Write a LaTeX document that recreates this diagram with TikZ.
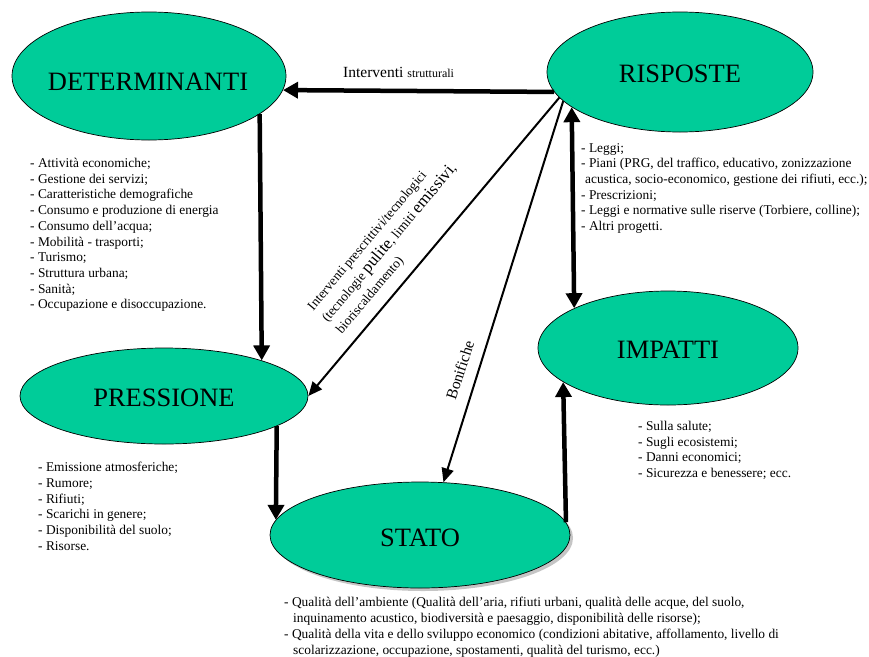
\documentclass[tikz,border=0pt]{standalone}
\usepackage{fontspec}
\setmainfont{Liberation Serif}
\usetikzlibrary{shapes.geometric,arrows.meta,shadows}
\definecolor{ellfill}{RGB}{0,204,153}
\begin{document}
\begin{tikzpicture}[x=1pt,y=-1pt,
  ell/.style={ellipse, draw=black, line width=0.7pt, fill=ellfill, inner sep=0pt},
  biglbl/.style={anchor=base, inner sep=0pt, font=\fontsize{26.5}{30}\selectfont},
  lst/.style={anchor=north west, inner sep=0pt, align=left, font=\fontsize{13.4}{15.7}\selectfont},
  bigarrow/.style={line width=4.5pt, -{Triangle[length=15pt,width=16pt]}},
  thinarrow/.style={line width=2pt, -{Triangle[length=14pt,width=12pt]}}
]
\useasboundingbox (0,0) rectangle (869,656);

% ellipses
\node[ell, minimum width=274pt, minimum height=128pt] (det) at (149,76) {};
\node[ell, minimum width=266pt, minimum height=120pt] (ris) at (680,72) {};
\node[ell, minimum width=288pt, minimum height=96pt] (pre) at (164,396) {};
\node[ell, minimum width=260pt, minimum height=114pt] (imp) at (668,348) {};
\node[ell, minimum width=300pt, minimum height=106pt,
      drop shadow={shadow xshift=3pt, shadow yshift=-3pt, fill=black!45}] (sta) at (420,535) {};

% ellipse labels
\node[biglbl] (detlbl) at (148,90) {DETERMINANTI};
\node[biglbl] (rislbl) at (680,82) {RISPOSTE};
\node[biglbl] (prelbl) at (164,406) {PRESSIONE};
\node[biglbl] (implbl) at (668,358) {IMPATTI};
\node[biglbl] (stalbl) at (420,546) {STATO};

% connectors
\draw[bigarrow] (ris.189.06) -- (det.-6.9);
\draw[bigarrow] (det.-19.06) -- (pre.20.75);
\draw[bigarrow] (pre.-15.4) -- (sta.174.64);
\draw[bigarrow] (sta.5.36) -- (imp.198.7);
\draw[line width=4.5pt, {Triangle[length=15pt,width=16pt]}-{Triangle[length=15pt,width=16pt]}] (ris.198.4) -- (imp.157.7);
\draw[thinarrow] (ris.192) -- (pre.east);
\draw[thinarrow] (ris.194.6) -- (sta.66.3);

% connector labels
\node[anchor=base west, inner sep=0pt, font=\fontsize{15.5}{18}\selectfont] (intlbl) at (343,77)
  {Interventi {\fontsize{12}{14}\selectfont strutturali}};
\node[rotate=50, anchor=west, inner sep=0pt, align=left, font=\fontsize{13.4}{18.5}\selectfont] (rotlbl) at (325,321)
  {Interventi prescrittivi/tecnologici\\(tecnologie {\fontsize{17}{18.5}\selectfont pulite}, limiti {\fontsize{17}{18.5}\selectfont emissivi},\\bioriscaldamento)};
\node[rotate=72, inner sep=0pt, font=\fontsize{15.5}{18}\selectfont] (bonlbl) at (460,370) {Bonifiche};

% lists
\node[lst] (detlist) at (30,158) {- Attività economiche;\\- Gestione dei servizi;\\- Caratteristiche demografiche\\- Consumo e produzione di energia\\- Consumo dell’acqua;\\- Mobilità - trasporti;\\- Turismo;\\- Struttura urbana;\\- Sanità;\\- Occupazione e disoccupazione.};
\node[lst] (rislist) at (581,143) {- Leggi;\\- Piani (PRG, del traffico, educativo, zonizzazione\\\hspace*{4pt}acustica, socio-economico, gestione dei rifiuti, ecc.);\\- Prescrizioni;\\- Leggi e normative sulle riserve (Torbiere, colline);\\- Altri progetti.};
\node[lst] (prelist) at (38,462) {- Emissione atmosferiche;\\- Rumore;\\- Rifiuti;\\- Scarichi in genere;\\- Disponibilità del suolo;\\- Risorse.};
\node[lst] (implist) at (638,421) {- Sulla salute;\\- Sugli ecosistemi;\\- Danni economici;\\- Sicurezza e benessere; ecc.};
\node[lst, font=\fontsize{13.4}{16}\selectfont] (stalist) at (284,597) {- Qualità dell’ambiente (Qualità dell’aria, rifiuti urbani, qualità delle acque, del suolo,\\\hspace*{9pt}inquinamento acustico, biodiversità e paesaggio, disponibilità delle risorse);\\- Qualità della vita e dello sviluppo economico (condizioni abitative, affollamento, livello di\\\hspace*{9pt}scolarizzazione, occupazione, spostamenti, qualità del turismo, ecc.)};
\end{tikzpicture}
\end{document}
